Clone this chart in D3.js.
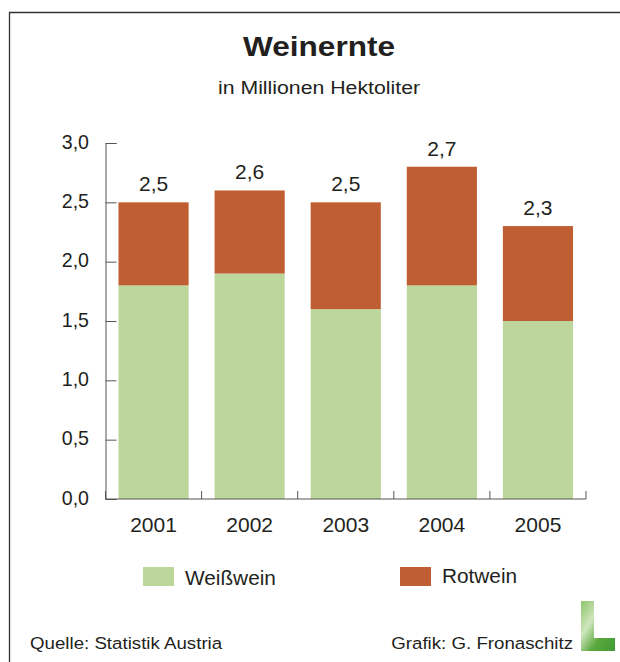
<!DOCTYPE html>
<html>
<head>
<meta charset="utf-8">
<script src="https://cdn.jsdelivr.net/npm/d3@7"></script>
<style>
  html, body { margin: 0; padding: 0; background: #fff; }
  svg { display: block; font-family: "Liberation Sans", Arial, sans-serif; }
</style>
</head>
<body>
<svg id="chart"></svg>
<script>
// Weinernte - stacked bars, white vs red wine harvest (Mio. hl)

const YEARS      = ["2001", "2002", "2003", "2004", "2005"];
const WEISSWEIN  = [1.8, 1.9, 1.6, 1.8, 1.5];
const ROTWEIN    = [0.7, 0.7, 0.9, 1.0, 0.8];
const TOTAL_TEXT = ["2,5", "2,6", "2,5", "2,7", "2,3"];
const Y_TICKS    = [0, 0.5, 1.0, 1.5, 2.0, 2.5, 3.0];

const COLORS = { weiss: "#bdd69b", rot: "#bf5e32", text: "#231f20", axis: "#555" };

const W = 620, H = 662;
const svg = d3.select("#chart").attr("width", W).attr("height", H);

// text with a slight horizontal stretch, the original type is wide
function label(parent, x, y, str, size, opts = {}) {
  const { sx = 1, anchor = "start", weight = "400" } = opts;
  return parent.append("text")
    .attr("transform", `translate(${x},${y}) scale(${sx},1)`)
    .attr("text-anchor", anchor)
    .attr("font-size", size + "px").attr("font-weight", weight)
    .attr("fill", COLORS.text)
    .text(str);
}

// ── Frame ─────────────────────────────────────────────────────
svg.append("path")
  .attr("d", `M9.5,${H} V12.5 H${W}`)
  .attr("fill", "none").attr("stroke", "#333").attr("stroke-width", 1.3);

// ── Titles ────────────────────────────────────────────────────
label(svg, 319, 56, "Weinernte", 27, { sx: 1.17, anchor: "middle", weight: "700" });
label(svg, 319, 94, "in Millionen Hektoliter", 19, { sx: 1.12, anchor: "middle" });

// ── Scales ────────────────────────────────────────────────────
const x = d3.scaleBand().domain(YEARS).range([105.5, 586]).paddingInner(0.27).paddingOuter(0.135);
const y = d3.scaleLinear().domain([0, 3]).range([499, 143]);

const rows = YEARS.map((yr, i) => ({ yr, w: WEISSWEIN[i], r: ROTWEIN[i], label: TOTAL_TEXT[i] }));

// ── Bars ──────────────────────────────────────────────────────
const g = svg.append("g");
g.selectAll(".weiss").data(rows).join("rect")
  .attr("x", d => x(d.yr)).attr("width", x.bandwidth())
  .attr("y", d => y(d.w)).attr("height", d => y(0) - y(d.w))
  .attr("fill", COLORS.weiss);
g.selectAll(".rot").data(rows).join("rect")
  .attr("x", d => x(d.yr)).attr("width", x.bandwidth())
  .attr("y", d => y(d.w + d.r)).attr("height", d => y(d.w) - y(d.w + d.r))
  .attr("fill", COLORS.rot);
rows.forEach(d => {
  label(g, x(d.yr) + x.bandwidth() / 2, y(d.w + d.r) - 11, d.label, 20, { sx: 1.05, anchor: "middle" });
});

// ── Axes ──────────────────────────────────────────────────────
const yAx = svg.append("g").attr("transform", "translate(105.5,0)")
  .call(d3.axisRight(y).tickValues(Y_TICKS).tickSize(11).tickFormat(() => ""));
yAx.select(".domain").attr("stroke", COLORS.axis);
yAx.selectAll(".tick line").attr("stroke", COLORS.axis);

Y_TICKS.forEach(t => {
  label(svg, 89, y(t) + 5.5, d3.format(".1f")(t).replace(".", ","), 20, { sx: 0.98, anchor: "end" });
});

const xEdges = [x.range()[0]].concat(YEARS.map(yr => x(yr) + x.bandwidth() + x.step() * x.paddingInner() / 2));
xEdges[xEdges.length - 1] = x.range()[1];
const base = svg.append("g");
base.append("line").attr("x1", x.range()[0]).attr("x2", x.range()[1])
  .attr("y1", y(0)).attr("y2", y(0)).attr("stroke", COLORS.axis);
base.selectAll(".xt").data(xEdges).join("line")
  .attr("x1", d => d).attr("x2", d => d)
  .attr("y1", y(0)).attr("y2", y(0) - 8).attr("stroke", COLORS.axis);

YEARS.forEach(yr => {
  label(svg, x(yr) + x.bandwidth() / 2, 531.5, yr, 21, { anchor: "middle" });
});

// ── Legend ────────────────────────────────────────────────────
const LEGEND = [
  { label: "Weißwein", color: COLORS.weiss, x: 143, ty: 585 },
  { label: "Rotwein",  color: COLORS.rot,   x: 400, ty: 583 },
];
LEGEND.forEach(l => {
  svg.append("rect").attr("x", l.x).attr("y", 567).attr("width", 31).attr("height", 19).attr("fill", l.color);
  label(svg, l.x + 42, l.ty, l.label, 20, { sx: 1.04 });
});

// ── Footer ────────────────────────────────────────────────────
label(svg, 30, 649, "Quelle: Statistik Austria", 17, { sx: 1.1 });
label(svg, 573, 649, "Grafik: G. Fronaschitz", 17, { sx: 1.1, anchor: "end" });

// Green "L" logo
const defs = svg.append("defs");
const grad = defs.append("linearGradient").attr("id", "leaf").attr("x1", "0").attr("y1", "0").attr("x2", "1").attr("y2", "1");
grad.append("stop").attr("offset", "0%").attr("stop-color", "#8cc46a");
grad.append("stop").attr("offset", "35%").attr("stop-color", "#cfe6bd");
grad.append("stop").attr("offset", "65%").attr("stop-color", "#5aa83e");
grad.append("stop").attr("offset", "100%").attr("stop-color", "#3f9a35");
svg.append("path")
  .attr("d", "M581,601 H594 V638 H615 V651 H581 Z")
  .attr("fill", "url(#leaf)");
</script>
</body>
</html>
